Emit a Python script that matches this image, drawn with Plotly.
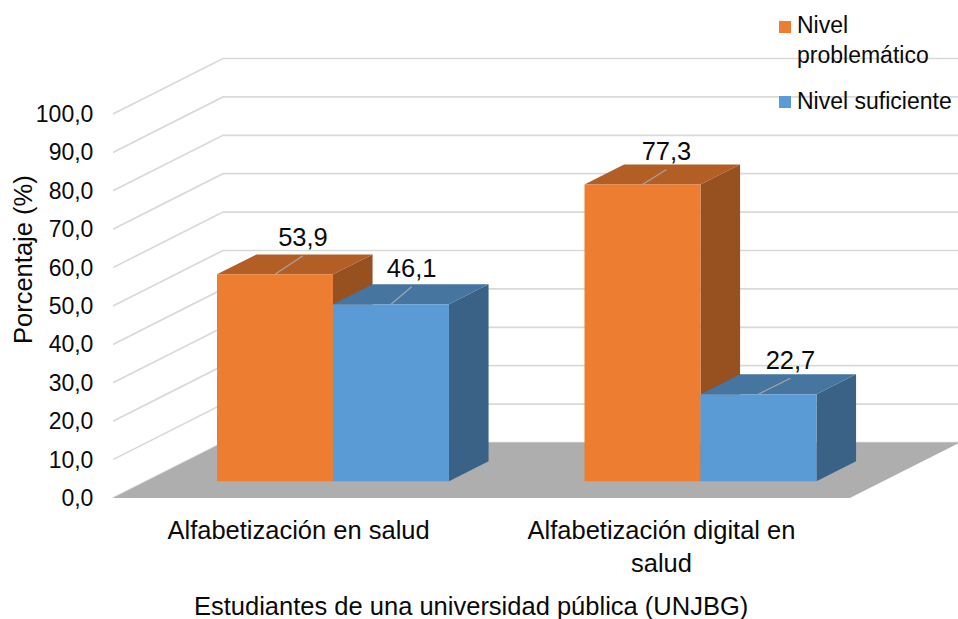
import plotly.graph_objects as go

CATEGORIES = ["Alfabetización en salud", "Alfabetización digital en<br>salud"]
CAT_TICKS = [0.505, 1.4925]
SERIES_NAMES = ["Nivel<br>problemático", "Nivel suficiente"]
NIVEL_PROBLEMATICO = [53.9, 77.3]
NIVEL_SUFICIENTE = [46.1, 22.7]
Y_TICKS = [0, 10, 20, 30, 40, 50, 60, 70, 80, 90, 100]

# colours: front, top, side
ORANGE = ("#ED7D31", "#B25E24", "#975020")
BLUE = ("#5B9BD5", "#4675A0", "#396286")
FLOOR, GRID, LEADER, INK = "#AEAEAE", "#D9D9D9", "#A6A6A6", "#0A0A0A"
FONT = "Liberation Sans"
FS, FS_TICK, FS_KEY = 25.5, 23, 23

# scales of the fake 3D box (Excel oblique look)
PX_X, PX_V = 367.5, 3.84     # pixels per category / per percent
DEPTH_X, DEPTH_V = 110 / PX_X, 55.5 / PX_V
BAR_D0, BAR_D1 = 0.30, 0.66
BAR_GAP, BAR_W = 0.1932, 0.3156
FLOOR_END = 2.005
# leader end relative to the bar's front top, in px, one per bar
LEADER_ORANGE = [(28, 18.5), (24, 15)]
LEADER_BLUE = [(20.7, 17.6), (32, 16)]
LABEL_LIFT = 3  # px between leader end and its text
PLOT_L, PLOT_W, PLOT_B = 113, 845, 498


def proj(x, v, d):
    return x + d * DEPTH_X, v + d * DEPTH_V


def px(x):
    return (x - PLOT_L) / PLOT_W


def py(y):
    return (PLOT_B - y) / PLOT_B


def poly(fig, pts, color):
    xs, ys = zip(*[proj(*p) for p in pts])
    fig.add_trace(go.Scatter(x=list(xs), y=list(ys), mode="lines", fill="toself",
                             fillcolor=color, line=dict(width=0), hoverinfo="skip",
                             showlegend=False))


def bar(fig, x0, v, colors):
    x1 = x0 + BAR_W
    poly(fig, [(x1, 0, BAR_D0), (x1, 0, BAR_D1), (x1, v, BAR_D1), (x1, v, BAR_D0)], colors[2])
    poly(fig, [(x0, v, BAR_D0), (x1, v, BAR_D0), (x1, v, BAR_D1), (x0, v, BAR_D1)], colors[1])
    poly(fig, [(x0, 0, BAR_D0), (x1, 0, BAR_D0), (x1, v, BAR_D0), (x0, v, BAR_D0)], colors[0])


def label(fig, x0, v, off):
    sx, sy = proj(x0 + BAR_W / 2, v, BAR_D0)
    ex, ey = sx + off[0] / PX_X, sy + off[1] / PX_V
    fig.add_trace(go.Scatter(x=[sx, ex], y=[sy, ey], mode="lines", hoverinfo="skip",
                             line=dict(color=LEADER, width=1.2), showlegend=False))
    fig.add_trace(go.Scatter(x=[ex], y=[ey + LABEL_LIFT / PX_V], mode="text",
                             text=[f"{v:.1f}".replace(".", ",")],
                             textposition="top center", hoverinfo="skip", showlegend=False,
                             textfont=dict(family=FONT, size=FS, color=INK)))


def key(top, color):
    return dict(type="rect", xref="paper", yref="paper", x0=px(779), x1=px(791),
                y0=py(top + 12), y1=py(top), fillcolor=color, line=dict(width=0))


fig = go.Figure()

# walls
x_max = PLOT_W / PX_X
for v in Y_TICKS:
    bx, by = proj(0, v, 1)
    fig.add_trace(go.Scatter(x=[0, bx, x_max], y=[v, by, by], mode="lines", hoverinfo="skip",
                             line=dict(color=GRID, width=1.7), showlegend=False))
# floor
poly(fig, [(0, 0, 0), (FLOOR_END, 0, 0), (FLOOR_END, 0, 1), (0, 0, 1)], FLOOR)

for i in range(len(CATEGORIES)):
    x0 = i + BAR_GAP
    bar(fig, x0, NIVEL_PROBLEMATICO[i], ORANGE)
    bar(fig, x0 + BAR_W, NIVEL_SUFICIENTE[i], BLUE)
for i in range(len(CATEGORIES)):
    x0 = i + BAR_GAP
    label(fig, x0, NIVEL_PROBLEMATICO[i], LEADER_ORANGE[i])
    label(fig, x0 + BAR_W, NIVEL_SUFICIENTE[i], LEADER_BLUE[i])

fig.update_layout(
    width=958, height=619, margin=dict(l=PLOT_L, r=0, t=0, b=121, pad=0),
    paper_bgcolor="white", plot_bgcolor="white", separators=",.", showlegend=False,
    font=dict(family=FONT, size=FS, color=INK),
    xaxis=dict(range=[0, x_max], tickvals=CAT_TICKS, ticktext=CATEGORIES, showgrid=False,
               zeroline=False, showline=False, ticks="outside", ticklen=9,
               tickcolor="rgba(0,0,0,0)", tickfont=dict(family=FONT, size=FS, color=INK)),
    yaxis=dict(range=[0, PLOT_B / PX_V], tickvals=Y_TICKS, tickformat=".1f",
               showgrid=False, zeroline=False, showline=False, ticks="outside", ticklen=14,
               tickcolor="rgba(0,0,0,0)", tickfont=dict(family=FONT, size=FS_TICK, color=INK)),
    # keys sit on the first text line, which a plotly legend can't do for a wrapped name
    shapes=[key(21, ORANGE[0]), key(96, BLUE[0])],
    annotations=[
        dict(text=SERIES_NAMES[0], align="left", xref="paper", yref="paper", showarrow=False,
             x=px(797), y=py(40), xanchor="left", yanchor="middle", xshift=-2,
             font=dict(family=FONT, size=FS_KEY, color=INK)),
        dict(text=SERIES_NAMES[1], align="left", xref="paper", yref="paper", showarrow=False,
             x=px(797), y=py(101), xanchor="left", yanchor="middle", xshift=-2,
             font=dict(family=FONT, size=FS_KEY, color=INK)),
        dict(text="Porcentaje (%)", textangle=-90, xref="paper", yref="paper", showarrow=False,
             x=px(23), y=py(260), xanchor="center", yanchor="middle",
             font=dict(family=FONT, size=FS, color=INK)),
        dict(text="Estudiantes de una universidad pública (UNJBG)", xref="paper", yref="paper",
             showarrow=False, x=px(471), y=py(606), xanchor="center", yanchor="middle",
             font=dict(family=FONT, size=FS, color=INK)),
    ],
)

# default body margin would shift the figure and clip its right edge
fig.write_html("out.html", config={"displayModeBar": False},
               post_script="document.body.style.margin='0';")
